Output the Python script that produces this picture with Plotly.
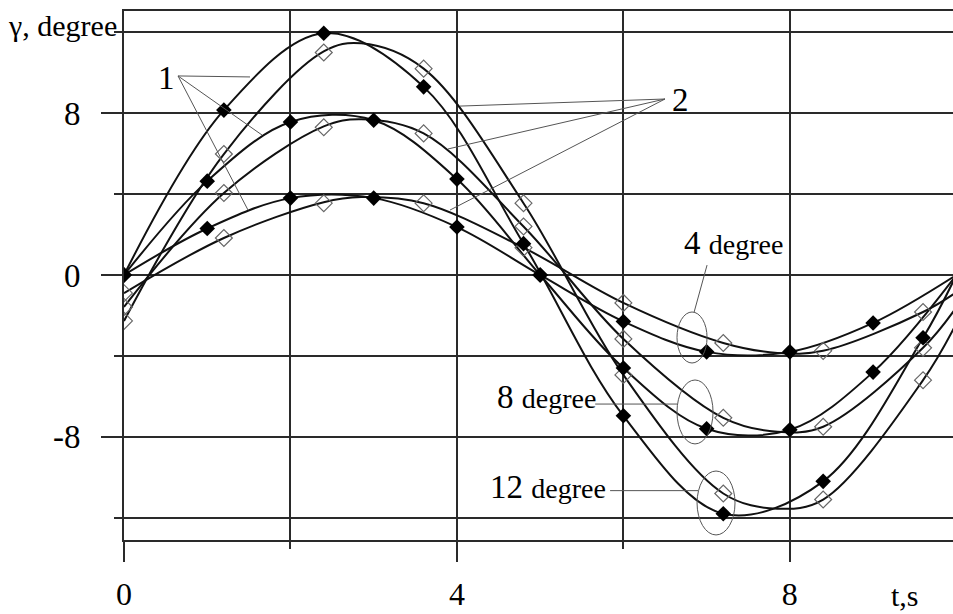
import plotly.graph_objects as go

# ---- data ----
# curve 1 (filled diamonds)
t_fill_12 = [0, 1.2, 2.4, 3.6, 4.8, 6.0, 7.2, 8.4, 9.6]
y_fill_12 = [0, 8.15, 11.95, 9.3, 1.55, -6.96, -11.8, -10.2, -3.1]
t_fill_48 = [0, 1, 2, 3, 4, 5, 6, 7, 8, 9]
y_fill_8 = [0, 4.64, 7.56, 7.65, 4.74, 0, -4.6, -7.6, -7.65, -4.8]
y_fill_4 = [0, 2.3, 3.8, 3.8, 2.37, 0, -2.3, -3.8, -3.8, -2.37]

# curve 2 (open diamonds)
t_open = [0, 1.2, 2.4, 3.6, 4.8, 6.0, 7.2, 8.4, 9.6]
y_open_12 = [-2.27, 5.98, 11.0, 10.2, 3.55, -4.94, -10.8, -11.1, -5.2]
y_open_8 = [-1.58, 4.05, 7.3, 7.0, 2.4, -3.16, -7.06, -7.5, -3.6]
y_open_4 = [-0.9, 1.83, 3.55, 3.55, 1.35, -1.38, -3.36, -3.75, -1.83]

# smooth lines drawn through the plot
t_line1_12 = [0, 1.2, 2.4, 3.6, 4.8, 6.0, 7.2, 8.4, 9.6, 10.0]
y_line1_12 = [0, 8.15, 11.95, 9.3, 1.55, -6.96, -11.8, -10.2, -3.1, 0.0]
t_line1_48 = [0, 1, 2, 3, 4, 5, 6, 7, 8, 9, 10]
y_line1_8 = [0, 4.64, 7.56, 7.65, 4.74, 0, -4.6, -7.6, -7.65, -4.8, 0.0]
y_line1_4 = [0, 2.3, 3.8, 3.8, 2.37, 0, -2.3, -3.8, -3.8, -2.37, 0.0]

t_line2 = [0, 1.2, 2.4, 2.85, 3.6, 4.8, 6.0, 7.2, 7.85, 8.4, 9.6, 10.0]
y_line2_12 = [-2.27, 5.98, 11.05, 11.45, 10.2, 3.55, -4.94, -10.8, -11.55, -11.1, -5.2, -2.4]
y_line2_8 = [-1.58, 4.05, 7.35, 7.7, 7.0, 2.4, -3.16, -7.06, -7.75, -7.5, -3.6, -1.6]
y_line2_4 = [-0.9, 1.83, 3.6, 3.85, 3.55, 1.35, -1.38, -3.36, -3.85, -3.75, -1.83, -0.85]

x_major = [0, 4, 8]
x_minor = [2, 6]
y_major = [-8, 0, 8]
y_major_text = ["-8", "0", "8"]
y_minor = [-12, -4, 4, 12]

FONT = "Liberation Serif, Times New Roman, serif"
INK = "#111111"
GRID = "#2a2a2a"
THIN = "#555555"

fig = go.Figure()


def line(x, y):
    fig.add_trace(go.Scatter(x=x, y=y, mode="lines",
                             line=dict(color=INK, width=2, shape="spline", smoothing=1.0),
                             hoverinfo="skip", showlegend=False))


def marks(x, y, filled):
    if filled:
        mk = dict(symbol="diamond", size=12, color="#000000", line=dict(width=0))
    else:
        mk = dict(symbol="diamond-open", size=13, color="#666666",
                  line=dict(width=1.2, color="#666666"))
    fig.add_trace(go.Scatter(x=x, y=y, mode="markers", marker=mk,
                             hoverinfo="skip", showlegend=False))


line(t_line2, y_line2_4)
line(t_line2, y_line2_8)
line(t_line2, y_line2_12)
line(t_line1_48, y_line1_4)
line(t_line1_48, y_line1_8)
line(t_line1_12, y_line1_12)
marks(t_open, y_open_4, False)
marks(t_open, y_open_8, False)
marks(t_open, y_open_12, False)
marks(t_fill_48, y_fill_4, True)
marks(t_fill_48, y_fill_8, True)
marks(t_fill_12, y_fill_12, True)

# leader lines
leaders = [
    ((0.649, 9.84), (1.514, 9.79)),
    ((0.649, 9.84), (1.658, 6.92)),
    ((0.649, 9.84), (1.490, 3.21)),
    ((6.50, 8.70), (4.037, 8.35)),
    ((6.50, 8.70), (3.893, 6.23)),
    ((6.50, 8.70), (3.917, 3.21)),
    ((7.005, 0.49), (6.85, -1.83)),     # 4 degree
    ((5.661, -6.38), (6.644, -6.38)),   # 8 degree
    ((5.840, -10.66), (6.897, -10.66)), # 12 degree
]
for (x0, y0), (x1, y1) in leaders:
    fig.add_shape(type="line", x0=x0, y0=y0, x1=x1, y1=y1, xref="x", yref="y",
                  line=dict(color=THIN, width=1))

# ellipses
for x0, x1, y0, y1 in [(6.644, 7.005, -1.83, -4.35),
                       (6.644, 7.077, -5.19, -8.35),
                       (6.885, 7.341, -9.69, -12.85)]:
    fig.add_shape(type="circle", x0=x0, x1=x1, y0=y0, y1=y1, xref="x", yref="y",
                  line=dict(color=THIN, width=1))

ann = [
    dict(x=0.505, y=9.74, text="1", xanchor="center", size=33),
    dict(x=6.69, y=8.65, text="2", xanchor="center", size=33),
    dict(x=7.32, y=1.6, text="4 <span style='font-size:28px'>degree</span>", xanchor="center", size=33),
    dict(x=5.69, y=-6.05, text="8 <span style='font-size:28px'>degree</span>", xanchor="right", size=33),
    dict(x=5.82, y=-10.5, text="12 <span style='font-size:28px'>degree</span>", xanchor="right", size=33),
]
for a in ann:
    fig.add_annotation(x=a["x"], y=a["y"], text=a["text"], xref="x", yref="y",
                       xanchor=a["xanchor"], yanchor="middle", showarrow=False,
                       font=dict(family=FONT, size=a["size"], color="#000000"))

# axis titles placed outside the plot area
fig.add_annotation(x=-0.006, y=0.972, xref="paper", yref="paper", text="γ, degree",
                   xanchor="right", yanchor="middle", showarrow=False,
                   font=dict(family=FONT, size=30, color="#000000"))
fig.add_annotation(x=0.942, y=-0.105, xref="paper", yref="paper", text="t,s",
                   xanchor="center", yanchor="middle", showarrow=False,
                   font=dict(family=FONT, size=30, color="#000000"))

fig.update_xaxes(range=[0, 9.96], tickmode="array", tickvals=x_major, ticktext=[str(v) for v in x_major],
                 ticks="outside", ticklen=20, tickwidth=1.5, tickcolor=GRID,
                 showgrid=True, gridcolor=GRID, gridwidth=2, zeroline=False,
                 showline=True, linecolor=GRID, linewidth=2, mirror=True,
                 ticklabelstandoff=5, automargin=False,
                 tickfont=dict(family=FONT, size=32, color="#000000"),
                 minor=dict(tickvals=x_minor, ticks="outside", ticklen=7, tickwidth=1.5, tickcolor=GRID,
                            showgrid=True, gridcolor=GRID, gridwidth=2))
fig.update_yaxes(range=[-13.1, 13.05], tickmode="array", tickvals=y_major, ticktext=y_major_text,
                 ticks="outside", ticklen=21, tickwidth=1.5, tickcolor=GRID,
                 showgrid=True, gridcolor=GRID, gridwidth=2, zeroline=False,
                 showline=True, linecolor=GRID, linewidth=2, mirror=False,
                 ticklabelstandoff=14, automargin=False,
                 tickfont=dict(family=FONT, size=33, color="#000000"),
                 minor=dict(tickvals=y_minor, ticks="outside", ticklen=8, tickwidth=1.5, tickcolor=GRID,
                            showgrid=True, gridcolor=GRID, gridwidth=2))

fig.update_layout(width=953, height=614, margin=dict(l=124, r=0, t=11, b=74),
                  paper_bgcolor="white", plot_bgcolor="white", showlegend=False,
                  font=dict(family=FONT))

# remove the default page margin so the figure fills the window exactly
fig.write_html("out.html", config={"displayModeBar": False},
               post_script="document.body.style.margin='0';document.body.style.overflow='hidden';")
